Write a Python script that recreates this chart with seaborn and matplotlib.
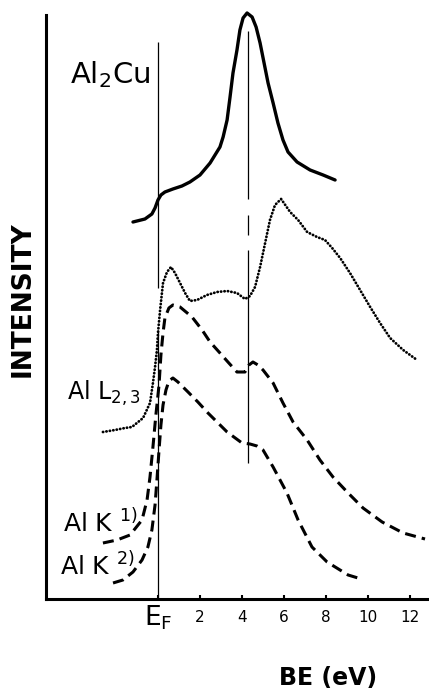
import numpy as np
import pandas as pd
import matplotlib
matplotlib.use("Agg")
import matplotlib.pyplot as plt
import seaborn as sns

# ---- data (x: binding energy in eV, y: intensity in arbitrary units) ----
al2cu_x = [-1.19, -0.62, -0.29, -0.14, 0.0, 0.14, 0.33, 0.71, 1.14, 1.52, 2.0, 2.48, 2.95, 3.10, 3.29, 3.43, 3.57,
           3.76, 3.90, 4.05, 4.24, 4.48, 4.67, 4.86, 5.05, 5.24, 5.48, 5.71, 5.95, 6.19, 6.62, 7.24, 7.86, 8.43]
al2cu_y = [377, 380, 385, 391, 399, 404, 407, 410, 413, 417, 424, 436, 452, 462, 479, 502, 526,
           549, 569, 581, 586, 582, 572, 556, 536, 516, 496, 476, 459, 447, 437, 429, 424, 419]

all23_x = [-2.62, -2.05, -1.57, -1.24, -0.71, -0.38, -0.24, -0.14, -0.05, 0.0, 0.10, 0.24, 0.43, 0.62, 0.81, 1.05,
           1.29, 1.52, 1.86, 2.33, 2.81, 3.29, 3.76, 4.14, 4.38, 4.62, 4.86, 5.10, 5.33, 5.57, 5.86, 6.29, 6.67,
           7.10, 7.57, 7.95, 8.29, 8.67, 9.14, 9.62, 10.10, 10.57, 11.05, 11.67, 12.33]
all23_y = [167, 169, 171, 172, 181, 196, 216, 232, 249, 266, 289, 316, 327, 332, 326, 316,
           306, 298, 299, 304, 307, 308, 306, 300, 303, 312, 332, 356, 379, 394, 400, 387, 379,
           367, 362, 359, 351, 341, 326, 309, 292, 276, 261, 249, 239]

alk1_x = [-2.62, -1.95, -1.33, -0.76, -0.52, -0.38, -0.24, -0.10, 0.05, 0.14, 0.24, 0.33, 0.52, 0.71, 1.05, 1.62,
          2.10, 2.48, 2.95, 3.33, 3.76, 4.14, 4.33, 4.52, 4.76, 5.0, 5.48, 5.95, 6.43, 7.10, 7.71, 8.33, 9.05,
          9.76, 10.67, 11.67, 12.71]
alk1_y = [56, 59, 64, 79, 99, 122, 152, 184, 214, 244, 266, 281, 291, 294, 292, 282,
          269, 257, 246, 237, 227, 227, 234, 237, 234, 229, 216, 196, 177, 159, 139, 122, 106,
          91, 77, 66, 60]

alk2_x = [-2.14, -1.67, -1.19, -0.76, -0.48, -0.29, -0.14, -0.05, 0.05, 0.14, 0.24, 0.38, 0.52, 0.71, 0.95, 1.43,
          1.90, 2.38, 2.86, 3.29, 4.0, 4.38, 4.71, 5.0, 5.48, 6.14, 6.67, 7.33, 8.05, 9.05, 9.52]
alk2_y = [16, 19, 27, 39, 52, 69, 94, 119, 149, 174, 194, 209, 218, 221, 217, 207,
          197, 186, 176, 167, 156, 155, 153, 149, 132, 106, 79, 52, 37, 24, 21]

# reference lines: x position and vertical segments (y ranges)
ef_x = 0.0
ef_segments = [(311, 557), (0, 269)]
peak_x = 4.29
peak_segments = [(400, 568), (364, 384), (136, 349)]

tick_values = [0, 2, 4, 6, 8, 10, 12]
tick_labels = ["E$_\\mathregular{F}$", "2", "4", "6", "8", "10", "12"]

# ---- figure ----
sns.set_style("ticks")
plt.rcParams["font.family"] = ["DejaVu Sans"]
plt.rcParams["text.color"] = "black"
plt.rcParams["xtick.color"] = "black"
plt.rcParams["xtick.labelcolor"] = "black"

fig = plt.figure(figsize=(4.29, 6.91), dpi=100)
ax = fig.add_axes([46 / 429, (691 - 599) / 691, (429 - 46) / 429, (599 - 15) / 691])

def df(x, y):
    return pd.DataFrame({"x": x, "y": y})

l = sns.lineplot(data=df(al2cu_x, al2cu_y), x="x", y="y", ax=ax, color="black",
                 lw=2.4, estimator=None, sort=False).lines[-1]
l.set_solid_joinstyle("round")
l.set_clip_on(False)
l = sns.lineplot(data=df(all23_x, all23_y), x="x", y="y", ax=ax, color="black",
                 lw=2.0, estimator=None, sort=False).lines[-1]
l.set_linestyle((0, (0.1, 1.15)))
l.set_dash_capstyle("round")
for xs, ys in [(alk1_x, alk1_y), (alk2_x, alk2_y)]:
    l = sns.lineplot(data=df(xs, ys), x="x", y="y", ax=ax, color="black",
                     lw=2.2, estimator=None, sort=False).lines[-1]
    l.set_linestyle((0, (3.6, 2.0)))

for y0, y1 in ef_segments:
    ax.vlines(ef_x, y0, y1, color="black", lw=0.9)
for y0, y1 in peak_segments:
    ax.vlines(peak_x, y0, y1, color="black", lw=0.9)

ax.set_xlim(-5.33, 12.9)
ax.set_ylim(0, 584)
ax.set_xlabel("")
ax.set_ylabel("")
ax.set_yticks([])
ax.set_xticks(tick_values)
ax.set_xticklabels(tick_labels)
ax.tick_params(axis="x", direction="in", length=3, width=1.5, labelsize=11, pad=8,
               colors="black")
ax.get_xticklabels()[0].set_fontsize(19)
ax.get_xticklabels()[0].set_y(0.012)

sns.despine(ax=ax, top=True, right=True)
for s in ["left", "bottom"]:
    ax.spines[s].set_linewidth(2.2)
    ax.spines[s].set_color("black")

# curve labels
ax.text(-4.19, 516, "Al$_\\mathregular{2}$Cu", fontsize=21, va="baseline", ha="left", color="black")
ax.text(-4.33, 199, "Al L$_\\mathregular{2,3}$", fontsize=17, va="baseline", ha="left", color="black")
ax.text(-4.52, 67, "Al K $^\\mathregular{1)}$", fontsize=18, va="baseline", ha="left", color="black")
ax.text(-4.67, 24, "Al K $^\\mathregular{2)}$", fontsize=18, va="baseline", ha="left", color="black")

fig.text(23 / 429, 1 - 299 / 691, "INTENSITY", rotation=90, fontsize=19, fontweight="bold",
         ha="center", va="center", color="black")
fig.text(328 / 429, 1 - 678 / 691, "BE (eV)", fontsize=17, fontweight="bold", ha="center",
         va="center", color="black")

fig.savefig("out.png", dpi=100)
